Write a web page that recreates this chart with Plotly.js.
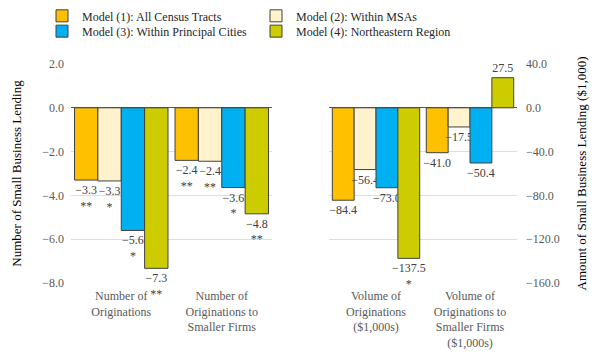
<!DOCTYPE html>
<html>
<head>
<meta charset="utf-8">
<script src="https://cdn.plot.ly/plotly-3.0.1.min.js"></script>
<style>html,body{margin:0;padding:0;background:#fff;}#chart{width:600px;height:356px;}</style>
</head>
<body>
<div id="chart"></div>
<script>
// Data
const modelNames = ["Model (1): All Census Tracts", "Model (2): Within MSAs", "Model (3): Within Principal Cities", "Model (4): Northeastern Region"];
const modelColors = ["#FFC000", "#FFF2CC", "#00B0F0", "#CCCC00"];
const leftCategories = ["Number of<br>Originations", "Number of<br>Originations to<br>Smaller Firms"];
const rightCategories = ["Volume of<br>Originations<br>($1,000s)", "Volume of<br>Originations to<br>Smaller Firms<br>($1,000s)"];
const leftModel1 = [-3.30, -2.40];
const leftModel2 = [-3.34, -2.44];
const leftModel3 = [-5.60, -3.64];
const leftModel4 = [-7.33, -4.84];
const leftSig1 = ["**", "**"];
const leftSig2 = ["*", "**"];
const leftSig3 = ["*", "*"];
const leftSig4 = ["**", "**"];
const rightModel1 = [-84.4, -41.0];
const rightModel2 = [-56.4, -17.5];
const rightModel3 = [-73.0, -50.4];
const rightModel4 = [-137.5, 27.5];
const rightSig1 = ["", ""];
const rightSig2 = ["", ""];
const rightSig3 = ["", ""];
const rightSig4 = ["*", ""];
const leftTicks = [2, 0, -2, -4, -6, -8];
const rightTicks = [40, 0, -40, -80, -120, -160];

const serif = "Liberation Serif";
function fmt(v){ return (v < 0 ? "\u2212" : "") + Math.abs(v).toFixed(1); }
function labels(vals, sig){ return vals.map((v,i)=> fmt(v) + (sig[i] ? "<br>" + sig[i] : "")); }

const leftVals = [leftModel1, leftModel2, leftModel3, leftModel4];
const leftSigs = [leftSig1, leftSig2, leftSig3, leftSig4];
const rightVals = [rightModel1, rightModel2, rightModel3, rightModel4];
const rightSigs = [rightSig1, rightSig2, rightSig3, rightSig4];
const legendIds = ["legend", "legend", "legend2", "legend2"];

const traces = [];
for (let i = 0; i < 4; i++) {
  traces.push({
    type: "bar", x: leftCategories, y: leftVals[i], name: modelNames[i],
    xaxis: "x", yaxis: "y", legendgroup: "m" + i, legend: legendIds[i],
    marker: {color: modelColors[i], line: {color: "#404040", width: 1}},
    text: labels(leftVals[i], leftSigs[i]), textposition: "outside",
    textfont: {family: serif, size: 12, color: "#404040"},
    constraintext: "none", cliponaxis: false, hoverinfo: "skip"
  });
}
for (let i = 0; i < 4; i++) {
  traces.push({
    type: "bar", x: rightCategories, y: rightVals[i], name: modelNames[i],
    xaxis: "x2", yaxis: "y2", legendgroup: "m" + i, showlegend: false,
    marker: {color: modelColors[i], line: {color: "#404040", width: 1}},
    text: labels(rightVals[i], rightSigs[i]), textposition: "outside",
    textfont: {family: serif, size: 12, color: "#404040"},
    constraintext: "none", cliponaxis: false, hoverinfo: "skip"
  });
}

const legendCommon = {orientation: "h", xref: "paper", yref: "paper", xanchor: "left", yanchor: "middle",
  entrywidth: 169, font: {family: serif, size: 12, color: "#262626"}, bgcolor: "rgba(0,0,0,0)", itemwidth: 30};

const layout = {
  width: 600, height: 356,
  margin: {l: 71, r: 83, t: 64, b: 73, autoexpand: false},
  paper_bgcolor: "#fff", plot_bgcolor: "#fff",
  font: {family: serif, size: 12, color: "#595959"},
  barmode: "group", bargap: 0.07, bargroupgap: 0,
  showlegend: true,
  legend: Object.assign({}, legendCommon, {x: -0.065, y: 1.22}),
  legend2: Object.assign({}, legendCommon, {x: -0.065, y: 1.15}),
  xaxis: {domain: [0, 0.4507], anchor: "y", showgrid: false, zeroline: false, showline: false,
          ticks: "", ticklabelstandoff: 4, tickfont: {family: serif, size: 12, color: "#595959"}},
  xaxis2: {domain: [0.5785, 1], anchor: "y2", showgrid: false, zeroline: false, showline: false,
           ticks: "", ticklabelstandoff: 4, tickfont: {family: serif, size: 12, color: "#595959"}},
  yaxis: {domain: [0, 1], anchor: "x", range: [-8, 2], tickvals: leftTicks, tickformat: ".1f",
          gridcolor: "#dedede", zeroline: true, zerolinecolor: "#595959", zerolinewidth: 1,
          tickfont: {family: serif, size: 12, color: "#595959"}, ticklabelstandoff: 6,
          title: {text: "Number of Small Business Lending", font: {family: serif, size: 13, color: "#000"}, standoff: 17}},
  yaxis2: {domain: [0, 1], anchor: "x2", side: "right", range: [-160, 40], tickvals: rightTicks, tickformat: ".1f",
           gridcolor: "#dedede", zeroline: true, zerolinecolor: "#595959", zerolinewidth: 1,
           tickfont: {family: serif, size: 12, color: "#595959"}, ticklabelstandoff: 8,
           title: {text: "Amount of Small Business Lending ($1,000)", font: {family: serif, size: 13, color: "#000"}, standoff: 18}}
};

Plotly.newPlot("chart", traces, layout, {displayModeBar: false, staticPlot: true});
</script>
</body>
</html>
